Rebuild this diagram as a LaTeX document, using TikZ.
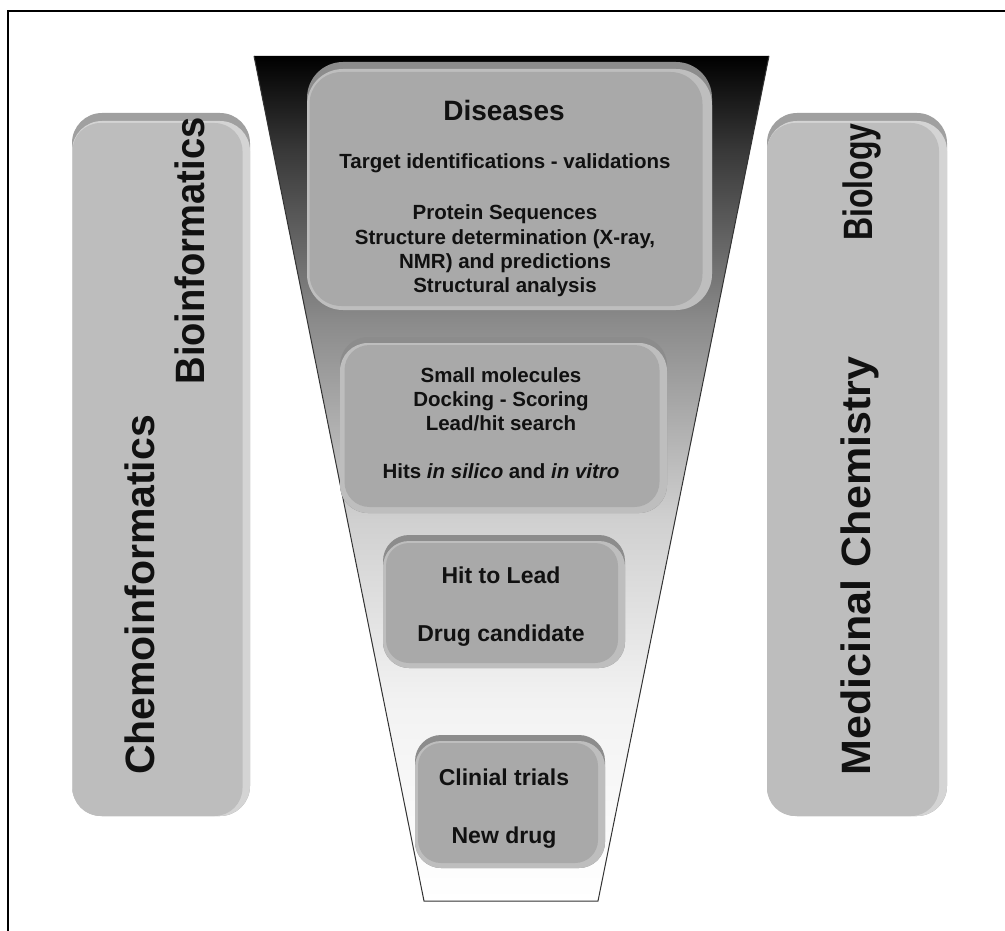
\documentclass[tikz,border=0pt]{standalone}
\usepackage{fontspec}
\setmainfont{Liberation Sans}
\definecolor{face}{HTML}{A9A9A9}
\definecolor{rimlight}{HTML}{BEBEBE}
\definecolor{rimdark}{HTML}{8C8C8C}
\definecolor{barface}{HTML}{BDBDBD}
\definecolor{barrim}{HTML}{A0A0A0}
\definecolor{barlight}{HTML}{D4D4D4}
\definecolor{textcol}{HTML}{111111}
\definecolor{gA}{HTML}{F2F2F2}
\definecolor{gB}{HTML}{D0D0D0}
\definecolor{gC}{HTML}{8A8A8A}
\definecolor{gD}{HTML}{383838}
\pgfdeclareverticalshading{funnelshade}{100bp}{color(0bp)=(white); color(25bp)=(white); color(36.9bp)=(gA); color(47.55bp)=(gB); color(59.4bp)=(gC); color(69.45bp)=(gD); color(75bp)=(black); color(100bp)=(black)}
\newcommand\myfs[1]{\fontsize{#1}{#1}\selectfont\bfseries}
\tikzset{
  txt/.style={anchor=base, inner sep=0pt, text=textcol},
  sidetxt/.style={anchor=center, inner sep=0pt, text=textcol, rotate=90, font=\myfs{41}},
  boxface/.style={fill=face, draw=none, rounded corners=#1},
  barface/.style={fill=barface, draw=none, rounded corners=#1},
}
\begin{document}
\begin{tikzpicture}[x=1pt,y=-1pt]
\useasboundingbox (0,0) rectangle (1005,931);
% frame
\draw[line width=1.5pt] (8,931) -- (8,11) -- (1005,11);

% funnel
\shade[shading=funnelshade] (254,56) -- (769,56) -- (598,901) -- (424,901) -- cycle;
\draw[line width=1pt, draw=black!80] (254,56) -- (424,901) -- (598,901) -- (769,56);

% left bar
\fill[barrim, rounded corners=30] (72,113) rectangle (250,816);
\fill[barlight, rounded corners=30] (72,121) rectangle (250,816);
\node[barface=28, minimum width=170, minimum height=693] (lbar) at (157.5,469.5) {};
\node[sidetxt] (bioinf) at (190,251) {\scalebox{0.93}[1]{Bioinformatics}};
\node[sidetxt] (chemoinf) at (140,595) {Chemoinformatics};

% right bar
\fill[barrim, rounded corners=30] (767,113) rectangle (947,816);
\fill[barlight, rounded corners=30] (767,121) rectangle (947,816);
\node[barface=28, minimum width=172, minimum height=693] (rbar) at (853,469.5) {};
\node[sidetxt] (biol) at (862,182) {\scalebox{0.78}[1]{Biology}};
\node[sidetxt] (medchem) at (860,566) {\scalebox{1.05}[1]{Medicinal Chemistry}};

% box 1
\fill[rimdark, rounded corners=36] (307,62) rectangle (712,310);
\fill[rimlight, rounded corners=36] (307,69) rectangle (712,310);
\node[boxface=32, minimum width=393, minimum height=234] (b1) at (506,189) {};
\node[txt, font=\myfs{28}] (d1) at (504,121) {Diseases};
\node[txt, font=\myfs{20.5}] (d2) at (505,169) {Target identifications - validations};
\node[txt, font=\myfs{20.5}] (d3) at (505,219) {Protein Sequences};
\node[txt, font=\myfs{20.5}] (d4) at (505,244) {Structure determination (X-ray,};
\node[txt, font=\myfs{20.5}] (d5) at (505,268) {NMR) and predictions};
\node[txt, font=\myfs{20.5}] (d6) at (505,292) {Structural analysis};

% box 2
\fill[rimdark, rounded corners=28] (340,337) rectangle (667,513);
\fill[rimlight, rounded corners=28] (340,343) rectangle (667,513);
\node[boxface=25, minimum width=315, minimum height=162] (b2) at (502,426) {};
\node[txt, font=\myfs{20.5}] (s1) at (501,382) {Small molecules};
\node[txt, font=\myfs{20.5}] (s2) at (501,406) {Docking - Scoring};
\node[txt, font=\myfs{20.5}] (s3) at (501,430) {Lead/hit search};
\node[txt, font=\myfs{20.5}] (s4) at (501,478) {Hits \textit{in silico} and \textit{in vitro}};

% box 3
\fill[rimdark, rounded corners=26] (383,535) rectangle (625,668);
\fill[rimlight, rounded corners=26] (383,541) rectangle (625,668);
\node[boxface=23, minimum width=232, minimum height=120] (b3) at (502,603) {};
\node[txt, font=\myfs{23}] (h1) at (501,583) {Hit to Lead};
\node[txt, font=\myfs{23}] (h2) at (501,641) {Drug candidate};

% box 4
\fill[rimdark, rounded corners=26] (415,735) rectangle (605,868);
\fill[rimlight, rounded corners=26] (415,741) rectangle (605,868);
\node[boxface=23, minimum width=180, minimum height=120] (b4) at (508,803) {};
\node[txt, font=\myfs{23}] (c1) at (504,785) {Clinial trials};
\node[txt, font=\myfs{23}] (c2) at (504,843) {New drug};
\end{tikzpicture}
\end{document}
